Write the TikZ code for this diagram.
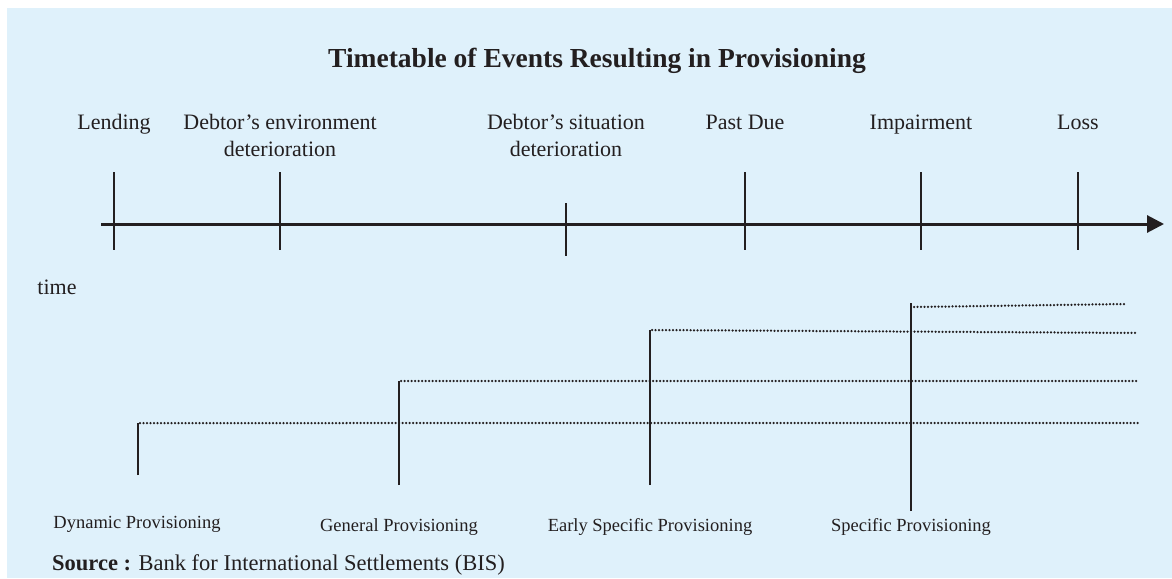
\documentclass[tikz,border=0pt]{standalone}
\usepackage{fontspec}
\setmainfont{Liberation Serif}
\usetikzlibrary{arrows.meta}
\definecolor{bgblue}{HTML}{DFF1FB}
\definecolor{ink}{HTML}{231F20}
\tikzset{
  lbl/.style={inner sep=0pt, text=ink, font=\fontsize{22}{27}\selectfont, align=center},
  plbl/.style={inner sep=0pt, text=ink, font=\fontsize{18.5}{22}\selectfont},
  tick/.style={draw=ink, line width=1.6pt},
  axisline/.style={draw=ink, line width=3pt, -{Triangle[length=17pt,width=17pt]}},
  riser/.style={draw=ink, line width=1.7pt},
  dotline/.style={draw=ink, line width=2.5pt, line cap=round, dash pattern=on 0pt off 3.5pt}
}
\begin{document}
\begin{tikzpicture}[x=1pt,y=-1pt]
\useasboundingbox (0,0) rectangle (1172,578);
\fill[bgblue] (7,8) rectangle (1172,578);

% title
\node[inner sep=0pt, text=ink, font=\fontsize{27.5}{30}\selectfont\bfseries] (title) at (597,61) {Timetable of Events Resulting in Provisioning};

% event labels
\node[lbl, anchor=base] (lend) at (114,129) {Lending};
\node[lbl, anchor=north] (env) at (280,114) {Debtor's environment\\deterioration};
\node[lbl, anchor=north] (sit) at (566,114) {Debtor's situation\\deterioration};
\node[lbl, anchor=base] (past) at (745,129) {Past Due};
\node[lbl, anchor=base] (imp) at (921,129) {Impairment};
\node[lbl, anchor=base] (loss) at (1078,129) {Loss};
\node[lbl, anchor=base] (time) at (57,294) {time};

% axis
\coordinate (a0) at (101,224);
\coordinate (a1) at (1164,224);
\draw[axisline] (a0) -- (a1);

% ticks
\coordinate (t1a) at (114,172); \coordinate (t1b) at (114,250);
\coordinate (t2a) at (280,172); \coordinate (t2b) at (280,250);
\coordinate (t3a) at (566,203); \coordinate (t3b) at (566,256);
\coordinate (t4a) at (745,172); \coordinate (t4b) at (745,250);
\coordinate (t5a) at (921,172); \coordinate (t5b) at (921,250);
\coordinate (t6a) at (1078,172); \coordinate (t6b) at (1078,250);
\draw[tick] (t1a) -- (t1b);
\draw[tick] (t2a) -- (t2b);
\draw[tick] (t3a) -- (t3b);
\draw[tick] (t4a) -- (t4b);
\draw[tick] (t5a) -- (t5b);
\draw[tick] (t6a) -- (t6b);

% provisioning levels
\coordinate (d0) at (138,475); \coordinate (d1) at (138,423); \coordinate (d2) at (1138,423);
\coordinate (g0) at (399,485); \coordinate (g1) at (399,381); \coordinate (g2) at (1138,381);
\coordinate (e0) at (650,485); \coordinate (e1) at (650,330); \coordinate (e2) at (1138,333);
\coordinate (s0) at (911,511); \coordinate (s1) at (911,303); \coordinate (s2) at (911,307); \coordinate (s3) at (1127,304);
\draw[riser] (d0) -- (d1);
\draw[dotline] ([xshift=2pt]d1) -- (d2);
\draw[riser] (g0) -- (g1);
\draw[dotline] ([xshift=2pt]g1) -- (g2);
\draw[riser] (e0) -- (e1);
\draw[dotline] ([xshift=2pt]e1) -- (e2);
\draw[riser] (s0) -- (s1);
\draw[dotline] ([xshift=3pt]s2) -- (s3);

% provisioning labels
\node[plbl, anchor=base] (dyn) at (137,528) {Dynamic Provisioning};
\node[plbl, anchor=base] (gen) at (399,531) {General Provisioning};
\node[plbl, anchor=base] (early) at (650,531) {Early Specific Provisioning};
\node[plbl, anchor=base] (spec) at (911,531) {Specific Provisioning};

% source
\node[inner sep=0pt, text=ink, font=\fontsize{22.5}{25}\selectfont, anchor=base west] (src) at (52,570) {\textbf{Source :} Bank for International Settlements (BIS)};
\end{tikzpicture}
\end{document}
